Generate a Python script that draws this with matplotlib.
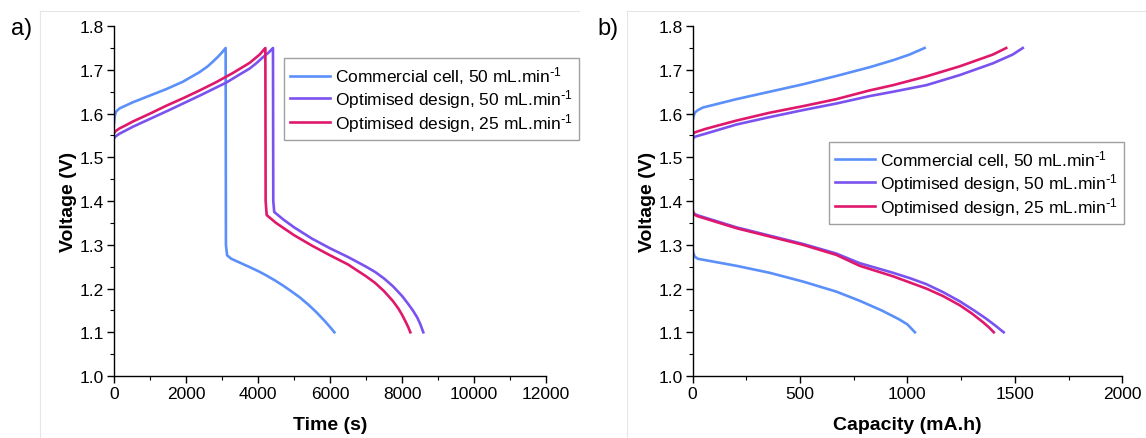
import numpy as np
import matplotlib
matplotlib.use("Agg")
import matplotlib.pyplot as plt
from matplotlib.ticker import MultipleLocator
from matplotlib.lines import Line2D

plt.rcParams["font.family"] = ["Liberation Sans", "DejaVu Sans"]
plt.rcParams["mathtext.default"] = "regular"

# ---- panel a: voltage vs time (s) ----
t_com = [0, 20, 60, 156, 526, 989, 1452, 1915, 2378, 2600, 2748, 2900, 3000, 3100,
         3108, 3140, 3258, 3500, 3767, 4000, 4230, 4460, 4692, 4920, 5156, 5400,
         5619, 5850, 6000, 6120]
v_com = [1.578, 1.595, 1.605, 1.612, 1.626, 1.641, 1.656, 1.673, 1.695, 1.708, 1.719, 1.731, 1.740, 1.750,
         1.300, 1.276, 1.268, 1.259, 1.249, 1.240, 1.230, 1.219, 1.207, 1.194, 1.180, 1.163,
         1.146, 1.126, 1.112, 1.100]

t_opt50 = [0, 30, 150, 526, 1000, 1452, 1915, 2378, 3119, 3500, 3767, 3950, 4137, 4300, 4415,
           4423, 4450, 4700, 5000, 5500, 6000, 6500, 7000, 7250, 7500, 7750, 8000,
           8150, 8300, 8420, 8500, 8590]
v_opt50 = [1.543, 1.547, 1.554, 1.570, 1.588, 1.605, 1.623, 1.641, 1.671, 1.690, 1.703, 1.715, 1.729, 1.740, 1.750,
           1.400, 1.375, 1.358, 1.340, 1.314, 1.292, 1.272, 1.250, 1.238, 1.223, 1.205, 1.183,
           1.167, 1.150, 1.134, 1.120, 1.100]

t_opt25 = [0, 30, 150, 342, 526, 1000, 1452, 1915, 2378, 2841, 3304, 3767, 4045, 4203,
           4211, 4240, 4500, 5000, 5500, 6000, 6500, 7000, 7250, 7500, 7750, 7900,
           8000, 8100, 8170, 8230]
v_opt25 = [1.555, 1.559, 1.566, 1.574, 1.582, 1.600, 1.618, 1.635, 1.653, 1.672, 1.693, 1.716, 1.735, 1.750,
           1.400, 1.368, 1.350, 1.322, 1.298, 1.276, 1.255, 1.228, 1.213, 1.194, 1.171, 1.154,
           1.140, 1.124, 1.112, 1.100]

# ---- panel b: voltage vs capacity (mA.h), charge and discharge ----
c_com_ch = [0, 5, 12, 25, 49, 204, 359, 514, 669, 824, 933, 1010, 1080]
v_com_ch = [1.582, 1.595, 1.603, 1.608, 1.614, 1.633, 1.650, 1.667, 1.686, 1.706, 1.722, 1.735, 1.750]
c_com_dis = [0, 3, 10, 25, 204, 359, 514, 669, 778, 880, 960, 1000, 1035]
v_com_dis = [1.292, 1.282, 1.273, 1.268, 1.252, 1.236, 1.216, 1.193, 1.172, 1.150, 1.130, 1.118, 1.100]

c_opt50_ch = [0, 10, 60, 204, 359, 514, 669, 824, 933, 1088, 1243, 1398, 1490, 1537]
v_opt50_ch = [1.542, 1.547, 1.554, 1.575, 1.592, 1.608, 1.623, 1.640, 1.650, 1.665, 1.688, 1.715, 1.735, 1.750]
c_opt50_dis = [0, 5, 20, 204, 359, 514, 669, 778, 933, 1010, 1088, 1165, 1243,
               1310, 1367, 1410, 1448]
v_opt50_dis = [1.378, 1.372, 1.368, 1.340, 1.321, 1.302, 1.280, 1.258, 1.236, 1.224, 1.210, 1.192, 1.171,
               1.150, 1.131, 1.115, 1.100]

c_opt25_ch = [0, 10, 60, 204, 359, 514, 669, 824, 933, 1088, 1243, 1398, 1460]
v_opt25_ch = [1.552, 1.557, 1.565, 1.584, 1.602, 1.617, 1.633, 1.653, 1.665, 1.685, 1.708, 1.735, 1.750]
c_opt25_dis = [0, 5, 20, 204, 359, 514, 669, 778, 933, 1088, 1165, 1243, 1300,
               1352, 1380, 1402]
v_opt25_dis = [1.382, 1.370, 1.366, 1.338, 1.319, 1.300, 1.277, 1.252, 1.228, 1.200, 1.183, 1.162, 1.143,
               1.123, 1.111, 1.100]

labels = [r"Commercial cell, 50 mL.min$^{\text{-}1}$",
          r"Optimised design, 50 mL.min$^{\text{-}1}$",
          r"Optimised design, 25 mL.min$^{\text{-}1}$"]
colors = ["#5b8ff9", "#7a52f0", "#e0186c"]
lw = 1.9

fig = plt.figure(figsize=(11.46, 4.39), dpi=100)
ax_a = fig.add_axes([0.0995, 0.1412, 0.377, 0.797])
ax_b = fig.add_axes([0.6043, 0.1412, 0.375, 0.797])

# faint panel borders from the source image
fig.add_artist(Line2D([0.035, 0.035], [0.0, 0.973], color="#e6e6e6", lw=0.8))
fig.add_artist(Line2D([0.035, 0.505], [0.973, 0.973], color="#e6e6e6", lw=0.8))
fig.add_artist(Line2D([0.547, 0.547], [0.0, 0.973], color="#e6e6e6", lw=0.8))
fig.add_artist(Line2D([0.547, 1.0], [0.973, 0.973], color="#e6e6e6", lw=0.8))

ax_a.plot(t_com, v_com, color=colors[0], lw=lw, label=labels[0])
ax_a.plot(t_opt50, v_opt50, color=colors[1], lw=lw, label=labels[1])
ax_a.plot(t_opt25, v_opt25, color=colors[2], lw=lw, label=labels[2])

ax_b.plot(c_com_ch, v_com_ch, color=colors[0], lw=lw, label=labels[0])
ax_b.plot(c_com_dis, v_com_dis, color=colors[0], lw=lw)
ax_b.plot(c_opt50_ch, v_opt50_ch, color=colors[1], lw=lw, label=labels[1])
ax_b.plot(c_opt50_dis, v_opt50_dis, color=colors[1], lw=lw)
ax_b.plot(c_opt25_ch, v_opt25_ch, color=colors[2], lw=lw, label=labels[2])
ax_b.plot(c_opt25_dis, v_opt25_dis, color=colors[2], lw=lw)

for ax in (ax_a, ax_b):
    ax.set_ylim(1.0, 1.8)
    ax.yaxis.set_major_locator(MultipleLocator(0.1))
    ax.yaxis.set_minor_locator(MultipleLocator(0.05))
    ax.spines["top"].set_visible(False)
    ax.spines["right"].set_visible(False)
    ax.spines["left"].set_linewidth(1.0)
    ax.spines["bottom"].set_linewidth(1.0)
    ax.tick_params(which="major", direction="out", length=5, width=1.0,
                   labelsize=12.5, pad=2)
    ax.tick_params(which="minor", direction="out", length=3, width=0.8)
    ax.set_ylabel("Voltage (V)", fontsize=14, fontweight="bold", labelpad=2)

ax_a.set_xlim(0, 12000)
ax_a.xaxis.set_major_locator(MultipleLocator(2000))
ax_a.xaxis.set_minor_locator(MultipleLocator(1000))
ax_a.set_xlabel("Time (s)", fontsize=14, fontweight="bold", labelpad=11)

ax_b.set_xlim(0, 2000)
ax_b.xaxis.set_major_locator(MultipleLocator(500))
ax_b.xaxis.set_minor_locator(MultipleLocator(250))
ax_b.set_xlabel("Capacity (mA.h)", fontsize=14, fontweight="bold", labelpad=11)

leg_kw = dict(fontsize=12.5, frameon=True, fancybox=False, handlelength=2.3,
              handletextpad=0.3, borderpad=0.35, labelspacing=0.05,
              borderaxespad=0, bbox_transform=fig.transFigure, loc="upper left")
leg_a = ax_a.legend(bbox_to_anchor=(0.248, 0.865), **leg_kw)
leg_b = ax_b.legend(bbox_to_anchor=(0.723, 0.674), **leg_kw)
for leg in (leg_a, leg_b):
    leg.get_frame().set_edgecolor("#888888")
    leg.get_frame().set_linewidth(1.0)

fig.text(0.010, 0.935, "a)", fontsize=17, va="center")
fig.text(0.521, 0.935, "b)", fontsize=17, va="center")

fig.savefig("out.png", dpi=100, facecolor="white")
